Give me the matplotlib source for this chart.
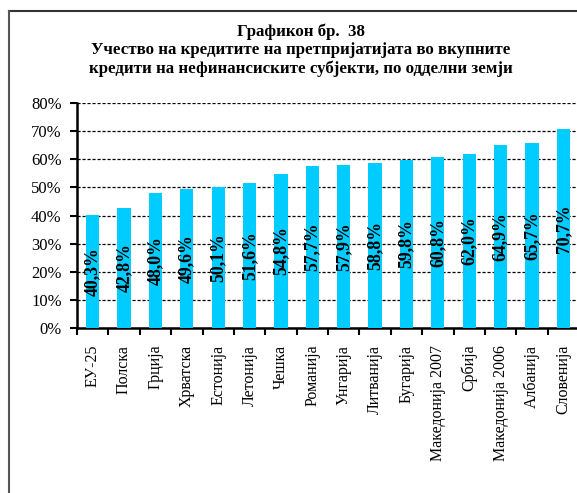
import numpy as np
import matplotlib
matplotlib.use("Agg")
import matplotlib.pyplot as plt
from matplotlib.lines import Line2D

plt.rcParams["font.family"] = ["Liberation Serif", "DejaVu Serif"]

countries = [
    "ЕУ-25", "Полска", "Грција", "Хрватска", "Естонија", "Летонија",
    "Чешка", "Романија", "Унгарија", "Литванија", "Бугарија",
    "Македонија 2007", "Србија", "Македонија 2006", "Албанија", "Словенија",
]
shares = [40.3, 42.8, 48.0, 49.6, 50.1, 51.6, 54.8, 57.7, 57.9, 58.8,
          59.8, 60.8, 62.0, 64.9, 65.7, 70.7]
y_ticks = [0, 10, 20, 30, 40, 50, 60, 70, 80]

title = ("Графикон бр.  38\n"
         "Учество на кредитите на претпријатијата во вкупните\n"
         "кредити на нефинансиските субјекти, по одделни земји")

W, H = 577, 493
fig = plt.figure(figsize=(W / 100, H / 100), dpi=100)
fig.patch.set_facecolor("white")

# plot area in pixel terms, converted to figure fractions
left, right, top, bottom = 77, 579, 103, 328
ax = fig.add_axes([left / W, 1 - bottom / H, (right - left) / W, (bottom - top) / H])

x = np.arange(len(countries))
bars = ax.bar(x, shares, width=0.42, color="#00CCFF", zorder=3)
ax.bar_label(
    bars,
    labels=[f"{v:.1f}%".replace(".", ",") for v in shares],
    label_type="center",
    rotation=90,
    fontsize=12.8,
    fontweight="bold",
    zorder=4,
)

ax.set_xlim(-0.5, len(countries) - 0.5)
ax.set_ylim(0, 80)
ax.set_yticks(y_ticks)
ax.set_yticklabels([f"{t}%" for t in y_ticks], fontsize=12)
ax.tick_params(axis="y", direction="out", length=5, width=1.5, pad=6)

ax.set_xticks(x)
ax.set_xticklabels(countries, rotation=90, fontsize=11.5)
ax.tick_params(axis="x", which="major", length=0, pad=12)
ax.set_xticks(np.arange(len(countries) + 1) - 0.5, minor=True)
ax.tick_params(axis="x", which="minor", direction="out", length=5, width=1.5)

ax.yaxis.grid(True, color="black", linestyle=(0, (2.5, 1.5)), linewidth=0.9, zorder=0)
ax.set_axisbelow(True)
for side in ["top", "right"]:
    ax.spines[side].set_visible(False)
for side in ["left", "bottom"]:
    ax.spines[side].set_linewidth(1.8)

fig.text(301 / W, 1 - 24 / H, title, ha="center", va="top", fontsize=12.2,
         fontweight="bold", linespacing=1.15)

# outer frame of the chart (only top and left visible in the crop)
fig.add_artist(Line2D([8.5 / W, 1.0], [1 - 10.5 / H] * 2, color="#333333", lw=1.5))
fig.add_artist(Line2D([8.5 / W] * 2, [0, 1 - 10.5 / H], color="#555555", lw=1.5))

fig.savefig("out.png", dpi=100)
